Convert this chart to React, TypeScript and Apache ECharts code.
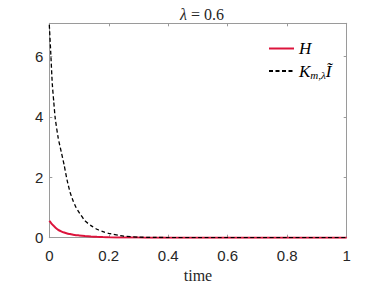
import React, { useEffect, useRef } from "react";
import * as echarts from "echarts";

const timeValues = [0, 0.005, 0.01, 0.015, 0.02, 0.03, 0.04, 0.05, 0.06, 0.07, 0.08, 0.09, 0.1, 0.12, 0.14, 0.16, 0.18, 0.2, 0.25, 0.3, 0.35, 0.4, 0.5, 0.6, 0.7, 0.8, 0.9, 1];
const kValues = [7.05, 6.1, 5.1, 4.5, 3.95, 3.3, 2.85, 2.4, 1.9, 1.5, 1.22, 1.0, 0.84, 0.56, 0.4, 0.28, 0.2, 0.14, 0.05, 0.02, 0.01, 0.005, 0.001, 0, 0, 0, 0, 0];
const hValues = [0.56, 0.5, 0.44, 0.39, 0.34, 0.26, 0.21, 0.17, 0.14, 0.12, 0.1, 0.085, 0.075, 0.055, 0.04, 0.03, 0.022, 0.015, 0.007, 0.003, 0.002, 0.001, 0, 0, 0, 0, 0, 0];
const seriesNames = ["H", "K"];
const titleText = "{l|λ} {n|= 0.6}";
const xAxisName = "time";

const AXIS_COLOR = "#9a9a9a";
const LABEL_COLOR = "#262626";
const SERIF = "'Liberation Serif', 'DejaVu Serif', serif";
const SANS = "'Liberation Sans', Arial, sans-serif";

export default function App() {
  const ref = useRef<HTMLDivElement>(null);
  useEffect(() => {
    if (!ref.current) return;
    const chart = echarts.init(ref.current, null, { renderer: "svg" });
    const hData = timeValues.map((t, i) => [t, hValues[i]]);
    const kData = timeValues.map((t, i) => [t, kValues[i]]);
    const baseX = { type: "value", min: 0, max: 1, interval: 0.2 };
    const baseY = { type: "value", min: 0, max: 7.1, interval: 2 };
    const line = { show: true, onZero: false, lineStyle: { color: AXIS_COLOR, width: 1 } };
    const tick = { show: true, inside: true, length: 3, lineStyle: { color: AXIS_COLOR } };
    chart.setOption({
      animation: false,
      backgroundColor: "#ffffff",
      title: {
        text: titleText,
        left: 197,
        textAlign: "center",
        top: 1,
        textStyle: {
          fontWeight: "normal",
          fontFamily: SERIF,
          fontSize: 16,
          rich: {
            l: { fontFamily: SERIF, fontStyle: "italic", fontWeight: "normal", fontSize: 16, color: LABEL_COLOR },
            n: { fontFamily: SERIF, fontWeight: "normal", fontSize: 16, color: LABEL_COLOR },
          },
        },
      },
      grid: { left: 49.3, right: 35.3, top: 23.3, bottom: 48.3, show: false, containLabel: false, outerBoundsMode: "none" },
      legend: {
        orient: "vertical",
        left: 263,
        top: 35,
        itemWidth: 25,
        itemHeight: 14,
        itemGap: 5,
        data: seriesNames,
        itemStyle: { opacity: 0 },
        formatter: (name: string) => (name === "H" ? "{i|H}" : "{i|K}{s|m,λ}{i|Ĩ}"),
        textStyle: {
          rich: {
            i: { fontFamily: SERIF, fontStyle: "italic", fontSize: 17, color: "#000", lineHeight: 16 },
            s: { fontFamily: SERIF, fontStyle: "italic", fontSize: 11, color: "#000", padding: [7, 0, 0, 0], lineHeight: 16 },
          },
        },
      },
      xAxis: [
        {
          ...baseX,
          position: "bottom",
          name: xAxisName,
          nameLocation: "middle",
          nameGap: 27,
          nameTextStyle: { fontFamily: SERIF, fontSize: 16, color: LABEL_COLOR },
          axisLine: line,
          axisTick: tick,
          axisLabel: { fontFamily: SANS, fontSize: 15, color: LABEL_COLOR, margin: 10 },
          splitLine: { show: false },
        },
        {
          ...baseX,
          position: "top",
          axisLine: line,
          axisTick: tick,
          axisLabel: { show: false },
          splitLine: { show: false },
        },
      ],
      yAxis: [
        {
          ...baseY,
          position: "left",
          axisLine: line,
          axisTick: tick,
          axisLabel: {
            fontFamily: SANS,
            fontSize: 15,
            color: LABEL_COLOR,
            margin: 6,
            showMaxLabel: false,
            formatter: (v: number) => (Math.abs(v % 2) < 1e-9 ? String(v) : ""),
          },
          splitLine: { show: false },
        },
        {
          ...baseY,
          position: "right",
          axisLine: line,
          axisTick: tick,
          axisLabel: { show: false },
          splitLine: { show: false },
        },
      ],
      series: [
        {
          name: "H",
          type: "line",
          data: hData,
          symbol: "none",
          smooth: 0.2,
          lineStyle: { color: "#dc143c", width: 2 },
          itemStyle: { color: "#dc143c" },
          z: 2,
        },
        {
          name: "K",
          type: "line",
          data: kData,
          symbol: "none",
          smooth: 0.2,
          lineStyle: { color: "#000000", width: 1.3, type: [4, 2.5] },
          itemStyle: { color: "#000000" },
          z: 3,
        },
      ],
    });
    return () => chart.dispose();
  }, []);
  return <div ref={ref} style={{ width: 382, height: 286, position: "absolute", left: 0, top: 0 }} />;
}
